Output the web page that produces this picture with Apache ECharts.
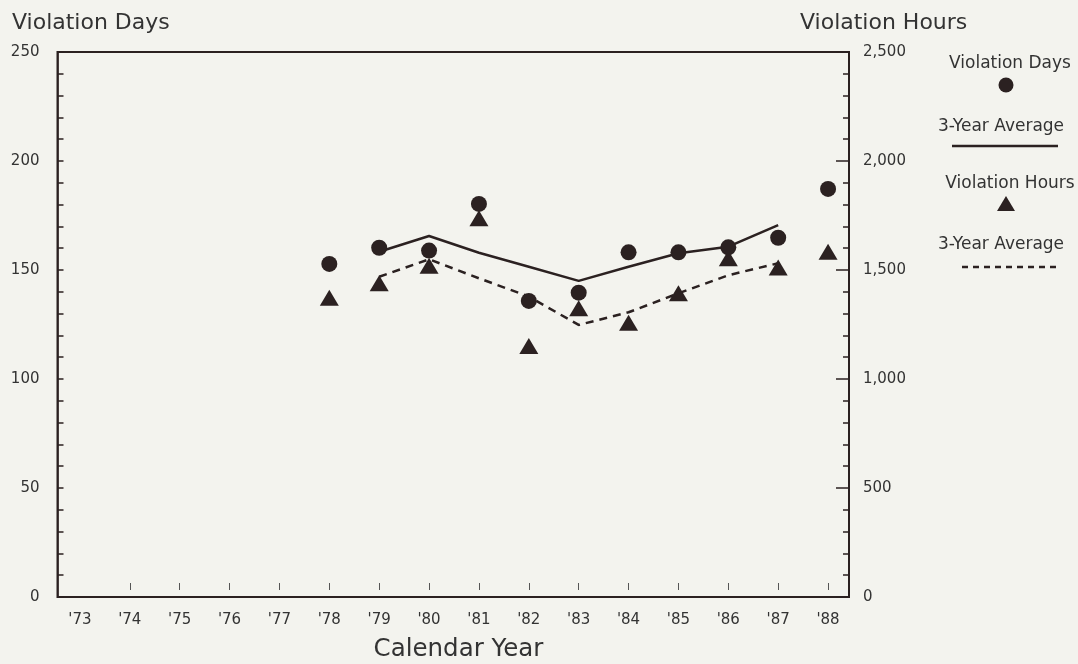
<!DOCTYPE html>
<html>
<head>
<meta charset="utf-8">
<script src="https://cdn.jsdelivr.net/npm/echarts@6/dist/echarts.min.js"></script>
<style>
html,body{margin:0;padding:0;background:#f3f3ee;}
#chart{width:1078px;height:664px;}
</style>
</head>
<body>
<div id="chart"></div>
<script>
// ---- data ----
const years = ["'73","'74","'75","'76","'77","'78","'79","'80","'81","'82","'83","'84","'85","'86","'87","'88"];
const violationDays  = [null,null,null,null,null,152.8,160.2,158.9,180.3,135.8,139.6,158.1,158.1,160.4,164.8,187.2];
const violationHours = [null,null,null,null,null,1373,1439,1520,1737,1151,1324,1258,1393,1554,1512,1584];
const daysAvg3       = [null,null,null,null,null,null,158.4,165.6,157.9,151.5,145.0,151.5,157.7,160.7,170.6,null];
const hoursAvg3      = [null,null,null,null,null,null,1469,1549,1462,1378,1248,1306,1393,1476,1531,null];
const daysAxis  = {min: 0, max: 250, label: 50, tick: 10};
const hoursAxis = {min: 0, max: 2500, label: 500, tick: 100};
const legendLabels = ['Violation Days', '3-Year Average', 'Violation Hours', '3-Year Average'];

// ---- styles ----
const ink = '#2b2121';
const txt = '#333333';
const font = 'DejaVu Sans';
const toData = a => a.map(v => v == null ? '-' : v);

const chart = echarts.init(document.getElementById('chart'), null, {renderer: 'canvas'});
const option = {
  backgroundColor: '#f3f3ee',
  animation: false,
  title: [
    {text: 'Violation Days', left: 12, top: 12, padding: 0,
     textStyle: {fontFamily: font, fontSize: 22, fontWeight: 'normal', color: txt}},
    {text: 'Violation Hours', left: 800, top: 12, padding: 0,
     textStyle: {fontFamily: font, fontSize: 22, fontWeight: 'normal', color: txt}}
  ],
  grid: [
    {left: 57.5, right: 229, top: 52, bottom: 67, outerBoundsMode: 'none', containLabel: false,
     show: true, borderColor: ink, borderWidth: 2, backgroundColor: 'transparent'},
    {left: 55, width: 798, top: 52, bottom: 67, outerBoundsMode: 'none', containLabel: false, show: false}
  ],
  xAxis: [
    {gridIndex: 0, type: 'value', min: 0, max: 1, show: false},
    {gridIndex: 1, type: 'category', data: years, boundaryGap: true,
     axisLine: {show: false},
     axisTick: {show: false},
     axisLabel: {margin: 16, fontFamily: font, fontSize: 15, color: txt, interval: 0},
     name: 'Calendar Year', nameLocation: 'middle', nameGap: 40,
     nameTextStyle: {fontFamily: font, fontSize: 24.5, color: txt, padding: [0, 0, 0, 9]}},
    {gridIndex: 1, type: 'category', data: years, boundaryGap: true, position: 'bottom', offset: -7,
     axisLine: {show: false},
     axisLabel: {show: false},
     axisTick: {show: true, inside: true, alignWithLabel: true, length: 7,
                interval: function (i) { return i !== 0; },
                lineStyle: {color: '#555', width: 1}}}
  ],
  yAxis: [
    {gridIndex: 0, type: 'value', position: 'left', min: daysAxis.min, max: daysAxis.max, interval: daysAxis.tick,
     axisLine: {show: true, lineStyle: {color: ink, width: 1.5}},
     axisTick: {show: true, inside: true, length: 6, lineStyle: {color: ink, width: 1.5}},
     splitLine: {show: false},
     axisLabel: {margin: 18, fontFamily: font, fontSize: 15, color: txt,
                 formatter: v => (Math.round(v) % daysAxis.label === 0 ? String(v) : '')}},
    {gridIndex: 0, type: 'value', position: 'right', min: hoursAxis.min, max: hoursAxis.max, interval: hoursAxis.tick,
     axisLine: {show: true, lineStyle: {color: ink, width: 1.5}},
     axisTick: {show: true, inside: true, length: 6, lineStyle: {color: ink, width: 1.5}},
     splitLine: {show: false},
     axisLabel: {margin: 14, fontFamily: font, fontSize: 15, color: txt,
                 formatter: v => (Math.round(v) % hoursAxis.label === 0 ? v.toLocaleString('en-US') : '')}},
    {gridIndex: 0, type: 'value', position: 'right', min: hoursAxis.min, max: hoursAxis.max, interval: hoursAxis.label,
     axisLine: {show: false},
     axisTick: {show: true, inside: true, length: 13, lineStyle: {color: ink, width: 1.5}},
     splitLine: {show: false}, axisLabel: {show: false}},
    {gridIndex: 1, type: 'value', min: daysAxis.min, max: daysAxis.max, show: false, splitLine: {show: false}},
    {gridIndex: 1, type: 'value', min: hoursAxis.min, max: hoursAxis.max, show: false, splitLine: {show: false}}
  ],
  series: [
    {name: '3-Year Average (Days)', type: 'line', xAxisIndex: 1, yAxisIndex: 3, data: toData(daysAvg3),
     showSymbol: false, symbol: 'none', lineStyle: {color: ink, width: 2.5}, z: 2},
    {name: '3-Year Average (Hours)', type: 'line', xAxisIndex: 1, yAxisIndex: 4, data: toData(hoursAvg3),
     showSymbol: false, symbol: 'none', lineStyle: {color: ink, width: 2.5, type: [8, 6]}, z: 2},
    {name: 'Violation Days', type: 'scatter', xAxisIndex: 1, yAxisIndex: 3, data: toData(violationDays),
     symbol: 'circle', symbolSize: 16, itemStyle: {color: ink, opacity: 1}, z: 4},
    {name: 'Violation Hours', type: 'scatter', xAxisIndex: 1, yAxisIndex: 4, data: toData(violationHours),
     symbol: 'triangle', symbolSize: [19, 16], itemStyle: {color: ink, opacity: 1}, z: 3}
  ],
  graphic: [
    {type: 'text', x: 1010, y: 64, style: {text: legendLabels[0], align: 'center', verticalAlign: 'middle', font: '17px "DejaVu Sans"', fill: txt}},
    {type: 'circle', shape: {cx: 1006, cy: 85, r: 7.5}, style: {fill: ink}},
    {type: 'text', x: 1001, y: 127, style: {text: legendLabels[1], align: 'center', verticalAlign: 'middle', font: '17px "DejaVu Sans"', fill: txt}},
    {type: 'line', shape: {x1: 952, y1: 146, x2: 1058, y2: 146}, style: {stroke: ink, lineWidth: 2.5}},
    {type: 'text', x: 1010, y: 184, style: {text: legendLabels[2], align: 'center', verticalAlign: 'middle', font: '17px "DejaVu Sans"', fill: txt}},
    {type: 'polygon', shape: {points: [[997, 211], [1015, 211], [1006, 196]]}, style: {fill: ink}},
    {type: 'text', x: 1001, y: 245, style: {text: legendLabels[3], align: 'center', verticalAlign: 'middle', font: '17px "DejaVu Sans"', fill: txt}},
    {type: 'line', shape: {x1: 962, y1: 267, x2: 1058, y2: 267}, style: {stroke: ink, lineWidth: 2.5, lineDash: [6, 5]}}
  ]
};
chart.setOption(option);
</script>
</body>
</html>
